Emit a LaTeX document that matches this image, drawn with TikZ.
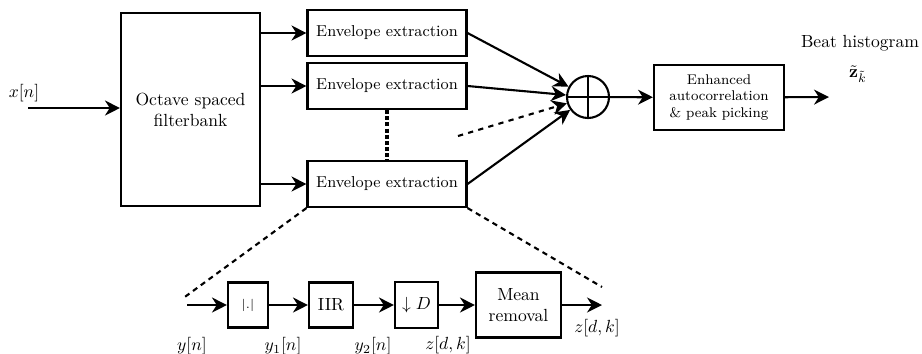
\documentclass[tikz,border=0pt]{standalone}
\usepackage{amsmath}
\usetikzlibrary{arrows.meta}

\begin{document}
\begin{tikzpicture}[x=0.02cm,y=-0.02cm,
  blk/.style={draw,rectangle,very thick,inner sep=1pt,align=center},
  arr/.style={very thick,-{Stealth[length=8.5pt,width=8.5pt,inset=2.7pt]}},
  zoomline/.style={very thick,dash pattern=on 3pt off 2.5pt},
  bigdots/.style={line width=2.6pt,dash pattern=on 2.3pt off 1.2pt}]
\useasboundingbox (0,0) rectangle (922,353);
% upper chain
\node (xlab) at(24,93){$x[n]$};
\coordinate (xin) at(28,108);
\node [blk,minimum width=2.78cm,minimum height=3.86cm] (fb) at(190.5,109.5){Octave spaced\\filterbank};
\node [blk,minimum width=3.18cm,minimum height=0.92cm,font=\small] (env1) at(387,33){Envelope extraction};
\node [blk,minimum width=3.18cm,minimum height=0.92cm,font=\small] (env2) at(387,86){Envelope extraction};
\node [blk,minimum width=3.18cm,minimum height=0.92cm,font=\small] (env3) at(387,184){Envelope extraction};
\node [draw,circle,very thick,minimum size=0.84cm,inner sep=0pt] (sum) at(588,97){};
\draw [very thick] (sum.north) -- (sum.south) (sum.west) -- (sum.east);
\coordinate (more) at(458,136);
\node [blk,minimum width=2.6cm,minimum height=1.3cm,font=\footnotesize,align=center,inner sep=0pt] (enh) at(719,97.5){Enhanced\\autocorrelation\\\& peak picking};
\coordinate (hout) at(829,97);
\node [inner sep=0pt] (beat) at(860,43){Beat histogram};
\node [inner sep=0pt] (zk) at(858,74){$\tilde{\mathbf{z}}_{\tilde{k}}$};

\draw[arr](xin) -- (fb.west |- xin);
\draw[arr](fb.east |- env1) -- (env1.west);
\draw[arr](fb.east |- env2) -- (env2.west);
\draw[arr](fb.east |- env3) -- (env3.west);
\draw[bigdots](env2.south) -- (env3.north);
\draw[arr](env1.east) -- (sum);
\draw[arr](env2.east) -- (sum);
\draw[arr](env3.east) -- (sum);
\draw[arr,dashed](more) -- (sum);
\draw[arr](sum) -- (enh);
\draw[arr](enh) -- (hout);

% envelope extraction detail
\coordinate (zl) at(182,299);
\coordinate (zr) at(602,287);
\draw[zoomline](env3.south west) -- (zl);
\draw[zoomline](env3.south east) -- (zr);
\coordinate (yin) at(187,305);
\node [blk,minimum width=0.8cm,minimum height=0.9cm,font=\scriptsize] (abs) at(248,305){$|.|$};
\node [blk,minimum width=0.88cm,minimum height=0.9cm] (iir) at(331,305){IIR};
\node [blk,minimum width=0.86cm,minimum height=0.92cm] (dec) at(416.5,305){$\downarrow D$};
\node [blk,minimum width=1.7cm,minimum height=1.3cm] (mean) at(518.5,305){Mean\\removal};
\coordinate (zout) at(602,305);
\draw[arr](yin) -- (abs);
\draw[arr](abs) -- (iir);
\draw[arr](iir) -- (dec);
\draw[arr](dec) -- (mean);
\draw[arr](mean) -- (zout);
\node (ylab) at(192,346){$y[n]$};
\node (y1lab) at(283,346){$y_1[n]$};
\node (y2lab) at(373,346){$y_2[n]$};
\node (zlab) at(448,345){$z[d,k]$};
\node (zoutlab) at(597,328){$z[d,k]$};
\end{tikzpicture}
\end{document}
